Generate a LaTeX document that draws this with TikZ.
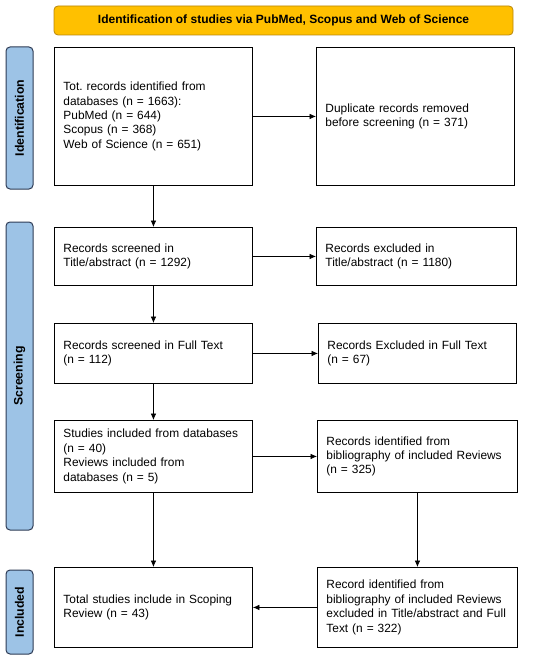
\documentclass[tikz,border=0pt]{standalone}
\usepackage{fontspec}
\setmainfont{Liberation Sans}
\usetikzlibrary{arrows.meta}
\definecolor{hdrfill}{HTML}{FFC000}
\definecolor{hdrline}{HTML}{B8860B}
\definecolor{sidefill}{HTML}{9DC3E6}
\definecolor{sideline}{HTML}{2E3B55}
\begin{document}
\begin{tikzpicture}[x=1pt,y=-1pt,
  box/.style={draw=black, line width=0.9pt, inner xsep=9pt, inner ysep=2pt,
    text width=#1-18pt, minimum width=#1, align=left, anchor=north west,
    font=\fontsize{11.9}{14.4}\selectfont},
  side/.style={draw=sideline, fill=sidefill, line width=1pt, rounded corners=4pt,
    rotate=90, font=\bfseries\fontsize{12.3}{14}\selectfont, inner sep=0pt},
  hdr/.style={draw=hdrline, fill=hdrfill, line width=0.8pt, rounded corners=4pt,
    font=\bfseries\fontsize{12}{14}\selectfont, inner sep=0pt},
  arr/.style={-{Latex[length=6.5pt,width=5.5pt]}, line width=0.6pt}]
\useasboundingbox (0,0) rectangle (550,663);
% header
\node[hdr, minimum width=459pt, minimum height=29pt] (hdr) at (283.5,20.5)
  {Identification of studies via PubMed, Scopus and Web of Science};
% side labels
\node[side, minimum width=142pt, minimum height=27pt] (sid) at (19.5,118) {Identification};
\node[side, minimum width=308pt, minimum height=27pt] (sscr) at (19.5,376) {Screening};
\node[side, minimum width=84pt, minimum height=27pt] (sinc) at (19.5,612) {Included};
% boxes
\node[box=198pt, minimum height=138pt] (b1) at (54,47)
  {Tot.\ records identified from\\databases (n = 1663):\\PubMed (n = 644)\\Scopus (n = 368)\\Web of Science (n = 651)};
\node[box=198pt, minimum height=138pt] (b2) at (316,47)
  {Duplicate records removed\\before screening (n = 371)};
\node[box=198pt, minimum height=58pt] (b3) at (54,227)
  {Records screened in\\Title/abstract (n = 1292)};
\node[box=200pt, minimum height=58pt] (b4) at (316,227)
  {Records excluded in\\Title/abstract (n = 1180)};
\node[box=198pt, minimum height=60pt] (b5) at (54,323)
  {Records screened in Full Text\\(n = 112)};
\node[box=198pt, minimum height=60pt] (b6) at (318,323)
  {Records Excluded in Full Text\\(n = 67)};
\node[box=198pt, minimum height=72pt] (b7) at (54,420)
  {Studies included from databases\\(n = 40)\\Reviews included from\\databases (n = 5)};
\node[box=200pt, minimum height=72pt] (b8) at (317,420)
  {Records identified from\\bibliography of included Reviews\\(n = 325)};
\node[box=198pt, minimum height=80pt] (b9) at (54,567)
  {Total studies include in Scoping\\Review (n = 43)};
\node[box=200pt, minimum height=80pt] (b10) at (317,567)
  {Record identified from\\bibliography of included Reviews\\excluded in Title/abstract and Full\\Text (n = 322)};
% arrows
\draw[arr] (b1.east) -- (b2.west);
\draw[arr] (b3.east) -- (b4.west);
\draw[arr] (b5.east) -- (b6.west);
\draw[arr] (b7.east) -- (b8.west);
\draw[arr] (b10.west) -- (b9.east);
\draw[arr] (b1.south) -- (b3.north);
\draw[arr] (b3.south) -- (b5.north);
\draw[arr] (b5.south) -- (b7.north);
\draw[arr] (b7.south) -- (b9.north);
\draw[arr] (b8.south) -- (b10.north);
\end{tikzpicture}
\end{document}
